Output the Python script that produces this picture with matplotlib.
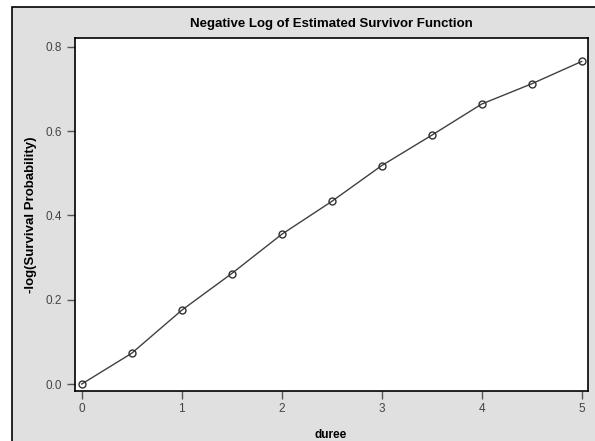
import matplotlib
matplotlib.use("Agg")
import matplotlib.pyplot as plt
from matplotlib.patches import Rectangle

duree = [0, 0.5, 1, 1.5, 2, 2.5, 3, 3.5, 4, 4.5, 5]
neglog = [0.0, 0.073, 0.175, 0.262, 0.355, 0.433, 0.518, 0.590, 0.664, 0.712, 0.765]
xticks = [0, 1, 2, 3, 4, 5]
yticks = [0.0, 0.2, 0.4, 0.6, 0.8]

W, H = 595, 441
fig = plt.figure(figsize=(W / 100, H / 100), dpi=100)
fig.patch.set_facecolor("white")
plt.rcParams['font.family'] = ['Liberation Sans', 'DejaVu Sans']

# outer gray frame
fig.patches.append(Rectangle((12 / W, -0.01), 1.0, (H - 7) / H + 0.01,
                             transform=fig.transFigure, facecolor="#e0e0e0",
                             edgecolor="black", linewidth=1.2, zorder=-5))

left, right, top, bottom = 74.5, 587.5, 38, 391
ax = fig.add_axes([left / W, 1 - bottom / H, (right - left) / W, (bottom - top) / H])
ax.set_zorder(5)
ax.set_facecolor("white")
ax.plot(duree, neglog, color="#404040", linewidth=1.0, marker="o", markersize=5,
        markerfacecolor="none", markeredgecolor="#303030", markeredgewidth=1.0,
        clip_on=False)

ax.set_xlim(-0.072, 5.058)
ax.set_ylim(-0.0165, 0.8206)
ax.set_xticks(xticks)
ax.set_xticklabels([str(t) for t in xticks])
ax.set_yticks(yticks)
ax.set_yticklabels([f"{t:.1f}" for t in yticks])
ax.tick_params(direction="out", length=6, width=1, color="#555555",
               labelcolor="#444444", labelsize=8.5, pad=3)
for s in ax.spines.values():
    s.set_color("black")
    s.set_linewidth(1.2)

ax.set_xlabel("duree", fontsize=8.5, fontweight="bold", labelpad=10)
ax.set_ylabel("-log(Survival Probability)", fontsize=9.5, fontweight="bold", labelpad=6)
ax.set_title("Negative Log of Estimated Survivor Function", fontsize=9.5,
             fontweight="bold", pad=8)

fig.savefig("out.png", dpi=100)
